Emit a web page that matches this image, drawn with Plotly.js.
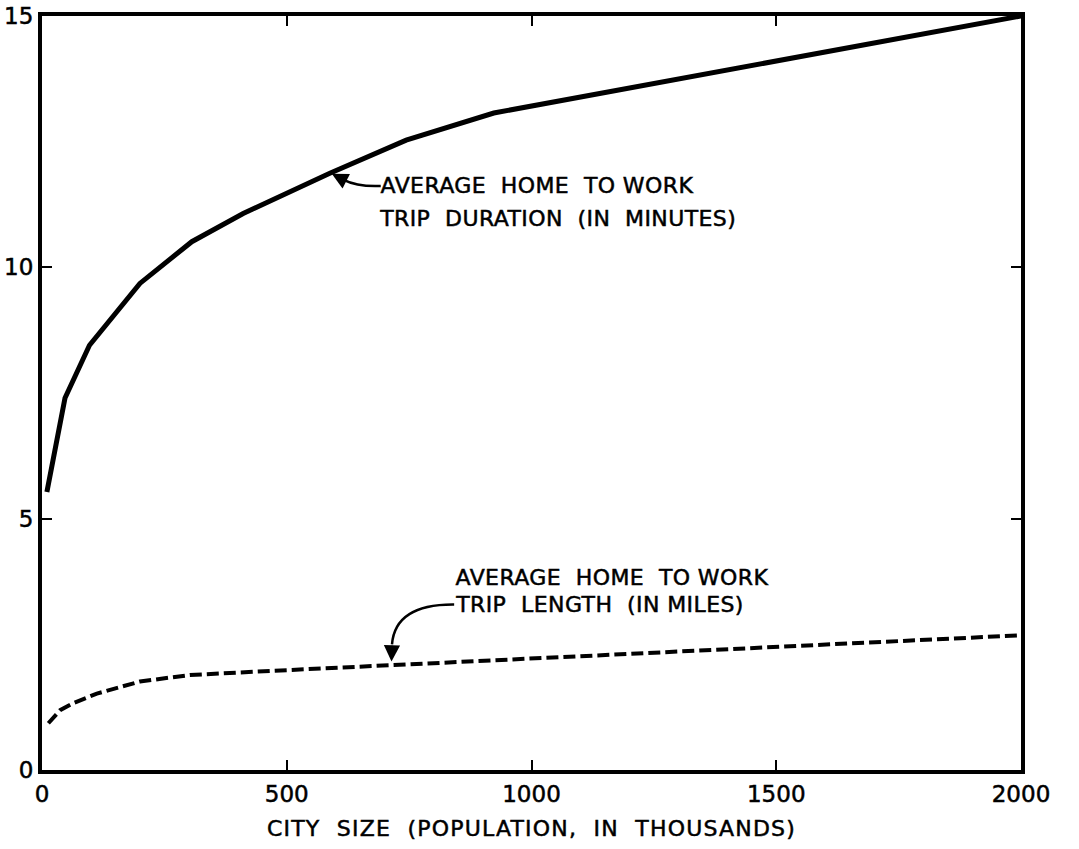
<!DOCTYPE html>
<html>
<head>
<meta charset="utf-8">
<script src="https://cdn.plot.ly/plotly-3.0.1.min.js"></script>
<style>
  html, body { margin: 0; padding: 0; background: #ffffff; }
  #chart { width: 1079px; height: 849px; }
  /* lettering: slightly heavier strokes and wider spacing */
  #chart svg text { stroke: #000; stroke-width: 0.5px; }
  #chart .g-xtitle text { letter-spacing: 1.2px; }
  #chart .annotation-text { letter-spacing: 0.4px; }
</style>
</head>
<body>
<div id="chart"></div>
<script>
// City size in thousands vs. average home-to-work trip duration (minutes)
const durationCitySize = [10, 47, 97, 200, 306, 411, 588, 744, 923, 2000];
const durationMinutes  = [5.53, 7.4, 8.45, 9.68, 10.51, 11.07, 11.87, 12.53, 13.07, 15.0];

// City size in thousands vs. average home-to-work trip length (miles)
const lengthCitySize = [13, 37, 64, 112, 200, 302, 507, 718, 2000];
const lengthMiles    = [0.93, 1.19, 1.33, 1.52, 1.76, 1.89, 1.99, 2.09, 2.68];

const xTickValues = [0, 500, 1000, 1500, 2000];
const xTickLabels = ['0', '500', '1000', '1500', '2000'];
const yTickValues = [0, 5, 10, 15];
const yTickLabels = ['0', '5', '10', '15'];

const durationLabelLines = ['AVERAGE  HOME  TO WORK', 'TRIP  DURATION  (IN  MINUTES)'];
const lengthLabelLines   = ['AVERAGE  HOME  TO WORK', 'TRIP  LENGTH  (IN MILES)'];
const xAxisTitle = 'CITY  SIZE  (POPULATION,  IN  THOUSANDS)';

const FONT = 'DejaVu Sans, sans-serif';

const traces = [
  {
    x: durationCitySize, y: durationMinutes,
    type: 'scatter', mode: 'lines',
    line: { color: '#000', width: 5 },
    hoverinfo: 'skip'
  },
  {
    x: lengthCitySize, y: lengthMiles,
    type: 'scatter', mode: 'lines',
    line: { color: '#000', width: 4, dash: '12px,5px' },
    hoverinfo: 'skip'
  }
];

const textFont = { family: FONT, size: 22, color: '#000' };
const arrowStyle = { arrowhead: 2, arrowsize: 1.3, arrowwidth: 2.5, arrowcolor: '#000' };

const annotations = [
  // duration label
  { x: 697, y: 11.62, xref: 'x', yref: 'y', text: durationLabelLines[0],
    showarrow: false, xanchor: 'left', yanchor: 'middle', font: textFont },
  { x: 697, y: 10.98, xref: 'x', yref: 'y', text: durationLabelLines[1],
    showarrow: false, xanchor: 'left', yanchor: 'middle', font: textFont },
  // arrowhead onto the duration curve
  Object.assign({ x: 592, y: 11.86, xref: 'x', yref: 'y', axref: 'x', ayref: 'y',
    ax: 616, ay: 11.74, text: '', showarrow: true }, arrowStyle),
  // length label
  { x: 850, y: 3.83, xref: 'x', yref: 'y', text: lengthLabelLines[0],
    showarrow: false, xanchor: 'left', yanchor: 'middle', font: textFont },
  { x: 850, y: 3.29, xref: 'x', yref: 'y', text: lengthLabelLines[1],
    showarrow: false, xanchor: 'left', yanchor: 'middle', font: textFont },
  // arrowhead onto the length curve
  Object.assign({ x: 714, y: 2.16, xref: 'x', yref: 'y', axref: 'x', ayref: 'y',
    ax: 715, ay: 2.5, text: '', showarrow: true }, arrowStyle)
];

// curved leader strokes from each label to its arrowhead
const shapes = [
  { type: 'path', xref: 'x', yref: 'y',
    path: 'M 692 11.62 Q 645 11.60 616 11.74',
    line: { color: '#000', width: 2.5 } },
  { type: 'path', xref: 'x', yref: 'y',
    path: 'M 842 3.29 Q 722 3.30 715 2.5',
    line: { color: '#000', width: 2.5 } }
];

const layout = {
  width: 1079, height: 849,
  margin: { l: 42, r: 58, t: 16, b: 79, pad: 0 },
  paper_bgcolor: '#fff', plot_bgcolor: '#fff',
  showlegend: false,
  font: { family: FONT, color: '#000', size: 23 },
  xaxis: {
    range: [0, 2000], tickmode: 'array',
    tickvals: xTickValues, ticktext: xTickLabels,
    ticks: 'inside', ticklen: 10, tickwidth: 2, tickcolor: '#000',
    showline: true, linewidth: 4, linecolor: '#000', mirror: 'ticks',
    showgrid: false, zeroline: false,
    tickfont: { family: FONT, size: 23, color: '#000' },
    title: { text: xAxisTitle, standoff: 16, font: { family: FONT, size: 22, color: '#000' } }
  },
  yaxis: {
    range: [0, 15], tickmode: 'array',
    tickvals: yTickValues, ticktext: yTickLabels,
    ticks: 'inside', ticklen: 10, tickwidth: 2, tickcolor: '#000',
    showline: true, linewidth: 4, linecolor: '#000', mirror: 'ticks',
    showgrid: false, zeroline: false,
    tickfont: { family: FONT, size: 23, color: '#000' }
  },
  annotations: annotations,
  shapes: shapes
};

Plotly.newPlot('chart', traces, layout, { displayModeBar: false, staticPlot: true });
</script>
</body>
</html>
